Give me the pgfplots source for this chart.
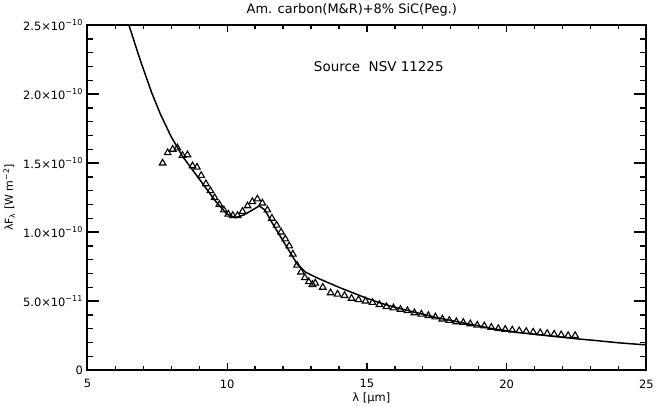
\documentclass[border=0pt]{standalone}
\usepackage{fontspec}
\setmainfont{DejaVu Sans}
\usepackage{pgfplots}
\usepackage{pgfplotstable}
\pgfplotsset{compat=1.18}

% model: am. carbon + 8% SiC  (y in units of 1e-10 W m^-2)
\pgfplotstableread{
x y
6.30 2.64
6.50 2.49
6.90 2.24
7.30 2.01
7.60 1.86
8.00 1.69
8.40 1.55
8.80 1.44
9.20 1.33
9.60 1.22
10.00 1.13
10.30 1.105
10.60 1.125
10.90 1.16
11.15 1.19
11.35 1.16
11.60 1.07
11.90 0.97
12.20 0.87
12.50 0.77
12.80 0.71
13.20 0.67
13.60 0.635
14.00 0.60
14.50 0.56
15.00 0.52
15.50 0.485
16.00 0.455
16.50 0.43
17.00 0.405
17.50 0.38
18.00 0.36
18.50 0.34
19.00 0.32
19.50 0.30
20.00 0.285
20.50 0.27
21.00 0.26
21.50 0.248
22.00 0.238
22.60 0.225
23.00 0.218
23.50 0.208
24.00 0.198
24.50 0.19
25.00 0.183
}\modeltab

% observed spectrum NSV 11225  (y in units of 1e-10 W m^-2)
\pgfplotstableread{
x y
7.69 1.50
7.87 1.575
8.05 1.60
8.22 1.61
8.40 1.555
8.58 1.56
8.76 1.48
8.92 1.47
9.07 1.41
9.24 1.35
9.40 1.30
9.55 1.25
9.72 1.20
9.88 1.16
10.04 1.13
10.20 1.12
10.37 1.12
10.55 1.15
10.73 1.19
10.90 1.22
11.08 1.24
11.26 1.21
11.44 1.16
11.60 1.10
11.77 1.05
11.93 1.00
12.08 0.95
12.22 0.90
12.35 0.84
12.50 0.76
12.64 0.71
12.78 0.67
12.92 0.64
13.05 0.62
13.15 0.63
13.42 0.60
13.70 0.56
13.95 0.55
14.20 0.54
14.45 0.52
14.70 0.51
14.95 0.50
15.20 0.49
15.45 0.475
15.70 0.46
15.95 0.45
16.20 0.44
16.45 0.43
16.70 0.415
16.95 0.405
17.20 0.395
17.45 0.385
17.70 0.37
17.95 0.36
18.20 0.35
18.45 0.345
18.70 0.335
18.95 0.325
19.20 0.32
19.45 0.31
19.70 0.30
19.95 0.295
20.20 0.29
20.45 0.285
20.70 0.28
20.95 0.275
21.20 0.27
21.45 0.265
21.70 0.26
21.95 0.255
22.20 0.25
22.45 0.25
}\obstab

\begin{document}
\begin{tikzpicture}
\begin{axis}[
  scale only axis, width=559bp, height=345bp,
  xmin=5, xmax=25, ymin=0, ymax=2.5,
  axis line style={line width=2bp},
  major tick length=0pt, minor tick length=0pt,
  xtick={5,10,15,20,25},
  ytick={0,0.5,1,1.5,2,2.5},
  yticklabels={0,5.0×10\textsuperscript{−11},1.0×10\textsuperscript{−10},1.5×10\textsuperscript{−10},2.0×10\textsuperscript{−10},2.5×10\textsuperscript{−10}},
  /pgf/number format/assume math mode=true,
  yticklabel style={font=\fontsize{11.5}{13}\selectfont, xshift=-1bp},
  xticklabel style={font=\fontsize{11.5}{13}\selectfont, yshift=-6bp},
  ylabel={λF\textsubscript{λ} [W m\textsuperscript{−2}]},
  every axis y label/.style={at={(axis description cs:-0.14,0.5)}, rotate=90, anchor=center, font=\fontsize{11}{13}\selectfont},
  title={Am. carbon(M\&R)+8\% SiC(Peg.)},
  title style={at={(axis description cs:0.473,1)}, anchor=base, yshift=6bp, font=\fontsize{13}{15}\selectfont},
  xlabel={λ [μm]},
  every axis x label/.style={at={(axis description cs:0.508,0)}, anchor=base, yshift=-31bp, font=\fontsize{11.5}{13}\selectfont},
]
\addplot[black, line width=1.5bp] table {\modeltab};
\addplot[black, only marks, mark=triangle, mark size=3.8bp, mark options={line width=1.1bp}] table {\obstab};
\node[anchor=base west, font=\fontsize{13.5}{15}\selectfont] at (axis cs:12.98,2.167) {Source\ \ NSV 11225};
\end{axis}
% inward tick marks on all four sides, drawn from the axis box corners
% x: 1 um = 27.95bp (major 7bp, minor 4bp); y: 1e-11 = 13.8bp (major 12bp, minor 6bp)
\foreach \v in {1,...,19} {
  \pgfmathparse{mod(\v,5)==0 ? 7 : 4}\let\len\pgfmathresult
  \draw[line width=1.3bp] (current axis.south west) ++(\v*27.95bp,0) -- ++(0,\len bp);
  \draw[line width=1.3bp] (current axis.north west) ++(\v*27.95bp,0) -- ++(0,-\len bp);
}
\foreach \v in {1,...,24} {
  \pgfmathparse{mod(\v,5)==0 ? 12 : 6}\let\len\pgfmathresult
  \draw[line width=1.3bp] (current axis.south west) ++(0,\v*13.8bp) -- ++(\len bp,0);
  \draw[line width=1.3bp] (current axis.south east) ++(0,\v*13.8bp) -- ++(-\len bp,0);
}
\end{tikzpicture}
\end{document}
